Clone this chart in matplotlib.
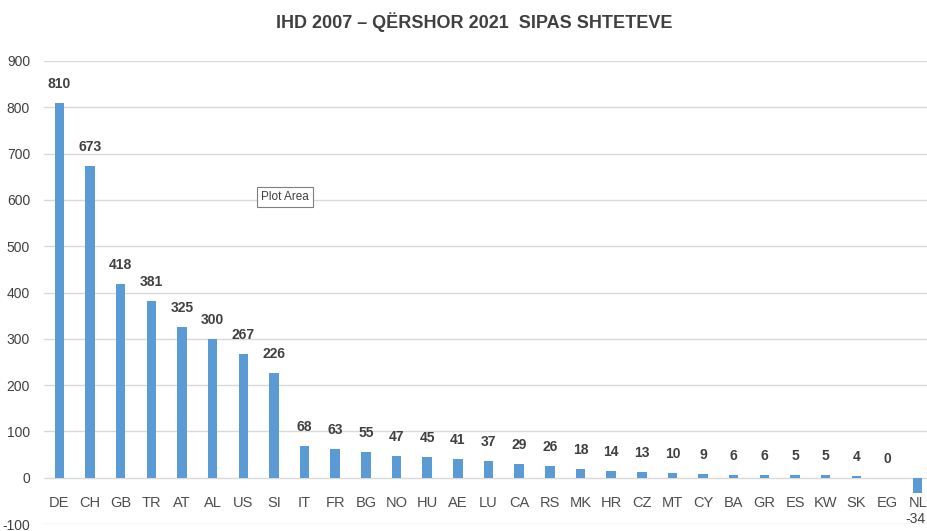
import matplotlib
matplotlib.use('Agg')
import matplotlib.pyplot as plt

countries = ["DE", "CH", "GB", "TR", "AT", "AL", "US", "SI", "IT", "FR", "BG", "NO", "HU", "AE",
             "LU", "CA", "RS", "MK", "HR", "CZ", "MT", "CY", "BA", "GR", "ES", "KW", "SK", "EG", "NL"]
values = [810, 673, 418, 381, 325, 300, 267, 226, 68, 63, 55, 47, 45, 41,
          37, 29, 26, 18, 14, 13, 10, 9, 6, 6, 5, 5, 4, 0, -34]
y_ticks = list(range(-100, 1000, 100))

plt.rcParams['font.family'] = ['Liberation Sans', 'DejaVu Sans']

fig = plt.figure(figsize=(9.27, 5.31), dpi=100)
ax = fig.add_axes([44 / 927, 1 - 524 / 531, (933 - 44) / 927, (524 - 61) / 531])

x = list(range(len(countries)))
ax.bar(x, values, width=0.31, color='#5B9BD5', zorder=3)

ax.set_xlim(-0.5, len(countries) - 0.5)
ax.set_ylim(-100, 900)
ax.set_yticks(y_ticks)
ax.set_yticklabels([str(v) for v in y_ticks], fontsize=10, color='#404040')
ax.tick_params(axis='y', length=0, pad=10)
ax.set_xticks([])
ax.grid(axis='y', color='#d9d9d9', linewidth=1, zorder=0)
for s in ax.spines.values():
    s.set_visible(False)

# etiketat e shteteve nen vijen zero
for xi, name in zip(x, countries):
    ax.annotate(name, (xi, 0), xytext=(0, -25), textcoords='offset pixels',
                ha='center', va='center', fontsize=10.5, color='#4d4d4d')

# vlerat mbi shtylla
for xi, v in zip(x, values):
    if v >= 0:
        ax.annotate(str(v), (xi, v), xytext=(0, 19), textcoords='offset pixels',
                    ha='center', va='center', fontsize=10, fontweight='bold', color='#404040')
    else:
        ax.annotate(str(v), (xi, 0), xytext=(-2, -41), textcoords='offset pixels',
                    ha='center', va='center', fontsize=10, color='#404040')

fig.text(474 / 927, 1 - 22 / 531, "IHD 2007 \u2013 QËRSHOR 2021  SIPAS SHTETEVE",
         ha='center', va='center', fontsize=13, fontweight='bold', color='#404040')

ax.text(285 / 927, 1 - 197 / 531, "Plot Area", transform=fig.transFigure,
        ha='center', va='center', fontsize=8.5, color='#404040',
        bbox=dict(boxstyle='square,pad=0.35', facecolor='white', edgecolor='#7f7f7f', linewidth=0.8))

fig.savefig('out.png', dpi=100)
